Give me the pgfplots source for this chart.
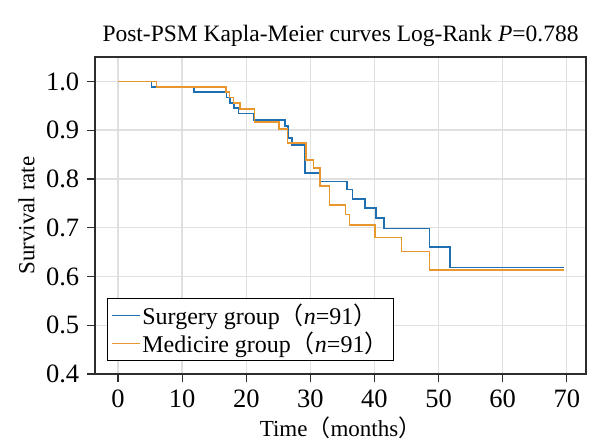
\documentclass[border=0pt]{standalone}
\usepackage{fontspec}
\setmainfont{Liberation Serif}
\newfontfamily\cjk{Noto Sans CJK SC}
\usepackage{pgfplots}
\pgfplotsset{compat=1.18}
\usetikzlibrary{calc}
\definecolor{sblue}{RGB}{31,112,178}
\definecolor{morange}{RGB}{232,150,46}
\definecolor{gridgray}{RGB}{224,224,224}
\definecolor{axgray}{RGB}{45,45,45}
\begin{document}
\fontsize{23bp}{27bp}\selectfont
\begin{tikzpicture}
\begin{axis}[name=ax, scale only axis, width=491bp, height=317bp,
  xmin=-3.6, xmax=73, ymin=0.4, ymax=1.05,
  xtick={0,10,...,70}, ytick={0.4,0.5,0.6,0.7,0.8,0.9,1.0},
  yticklabel style={/pgf/number format/fixed, /pgf/number format/fixed zerofill, /pgf/number format/precision=1},
  /pgf/number format/assume math mode=true,
  tick label style={font=\fontsize{26.5bp}{30bp}\selectfont},
  tick pos=left, tick align=outside, major tick length=8bp,
  tick style={axgray, line width=1.3bp},
  axis line style={axgray, line width=1.5bp},
  grid=major, grid style={gridgray, line width=1.4bp},
  title={Post-PSM Kapla-Meier curves Log-Rank \textit{P}=0.788},
  title style={font=\fontsize{23.5bp}{27bp}\selectfont, yshift=-3bp},
  xlabel={Time{\cjk （}months{\cjk ）}},
  xlabel style={yshift=6bp},
  ylabel={Survival rate},
  ylabel style={yshift=-4bp},
  legend style={at={(0.025,0.041)}, anchor=south west, draw=black, line width=1bp, inner sep=3bp,
    font=\fontsize{24bp}{28bp}\selectfont},
  legend cell align=left,
  legend image code/.code={\draw[#1] (6bp,0bp) -- (34bp,0bp);},
]
\addplot[sblue, line width=1.6bp, const plot] coordinates {
(0,1.0)(5.2,0.989)(11.8,0.978)(16.9,0.967)(17.5,0.956)(18.1,0.945)(18.8,0.934)
(21.2,0.921)(26.0,0.908)(26.5,0.884)(27.1,0.870)(29.2,0.812)(31.5,0.795)
(35.7,0.778)(36.6,0.759)(38.5,0.740)(40.2,0.720)(41.5,0.698)(48.6,0.661)
(51.8,0.618)(69.5,0.618)};
\addlegendentry{Surgery group{\cjk （}\textit{n}=91{\cjk ）}}
\addplot[morange, line width=1.6bp, const plot] coordinates {
(0,1.0)(6.0,0.989)(16.8,0.978)(17.4,0.967)(18.0,0.956)(19.0,0.943)
(21.3,0.917)(25.1,0.902)(26.4,0.874)(29.3,0.839)(30.5,0.822)(31.5,0.785)
(33.0,0.746)(35.5,0.727)(36.1,0.706)(40.1,0.680)(44.2,0.651)(48.6,0.613)
(69.5,0.613)};
\addlegendentry{Medicire group{\cjk （}\textit{n}=91{\cjk ）}}
\end{axis}
\pgfresetboundingbox
\path ($(ax.south west)+(-95bp,-74bp)$) rectangle ($(ax.north east)+(28bp,57bp)$);
\end{tikzpicture}
\end{document}
